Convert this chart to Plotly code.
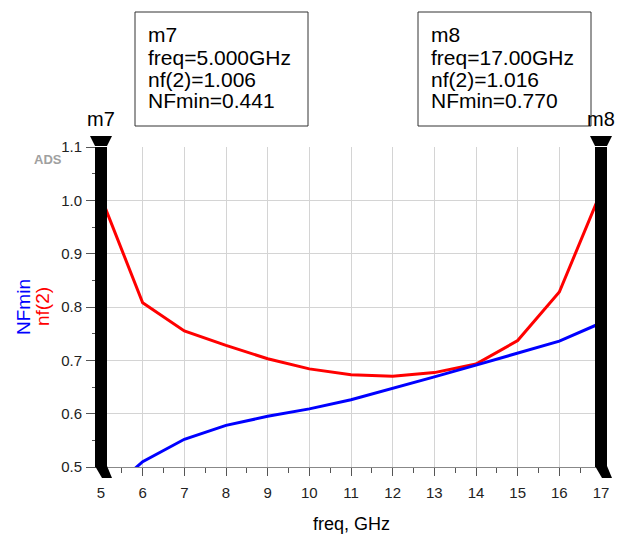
import plotly.graph_objects as go

# ---- data ----
freq = [5, 6, 7, 8, 9, 10, 11, 12, 13, 14, 15, 16, 17]
nf2 = [1.006, 0.808, 0.755, 0.728, 0.703, 0.684, 0.673, 0.670, 0.677, 0.693, 0.737, 0.828, 1.016]
nfmin = [0.441, 0.510, 0.552, 0.578, 0.595, 0.609, 0.626, 0.647, 0.669, 0.691, 0.713, 0.736, 0.770]

marker_names = ["m7", "m8"]
marker_freq = [5, 17]
marker_nf2 = [1.006, 1.016]
marker_nfmin = [0.441, 0.770]

x_ticks = list(range(5, 18))
y_ticks = [0.5, 0.6, 0.7, 0.8, 0.9, 1.0, 1.1]
x_range = [5, 17]
y_range = [0.5, 1.1]

FONT = "Liberation Sans, Arial, sans-serif"

# page body has an 8px margin; work in screen pixels and compensate
OFF = 8
W, H = 623 - OFF, 541 - OFF
PL, PR, PT, PB = 101, 601, 147, 467   # plot area in screen pixels
L, T = PL - OFF, PT - OFF
R = (W + OFF) - PR
B = (H + OFF) - PB
PW = PR - PL
PH = PB - PT


def px2paper_x(px):
    return (px - PL) / PW


def px2paper_y(py):
    return (PB - py) / PH


def data2frac_x(v):
    return (v - x_range[0]) / (x_range[1] - x_range[0])


def data2frac_y(v):
    return (v - y_range[0]) / (y_range[1] - y_range[0])


def fmt_freq(f):
    digits = len(str(int(f)))
    return f"{f:.{4 - digits}f}GHz"


fig = go.Figure()
fig.add_trace(go.Scatter(x=freq, y=nf2, mode="lines", name="nf(2)",
                         line=dict(color="#ff0000", width=3)))
fig.add_trace(go.Scatter(x=freq, y=nfmin, mode="lines", name="NFmin",
                         line=dict(color="#0000ff", width=3)))

shapes = []
annotations = []

# marker bars (domain refs so they are not clipped to the plot area)
for m in marker_freq:
    fx = data2frac_x(m)
    shapes.append(dict(type="rect", xref="x domain", yref="y domain", xsizemode="pixel", xanchor=fx,
                       x0=-6, x1=6, y0=data2frac_y(y_range[0]), y1=data2frac_y(y_range[1]),
                       fillcolor="black", line=dict(width=0), layer="above"))
    shapes.append(dict(type="path", xref="x domain", yref="y domain", xsizemode="pixel", ysizemode="pixel",
                       xanchor=fx, yanchor=1.0, path="M-11,11 L11,11 L6,1 L-6,1 Z",
                       fillcolor="black", line=dict(width=0), layer="above"))
    shapes.append(dict(type="path", xref="x domain", yref="y domain", xsizemode="pixel", ysizemode="pixel",
                       xanchor=fx, yanchor=0.0, path="M-6,1 L6,1 L11,-11 L1,-11 Z",
                       fillcolor="black", line=dict(width=0), layer="above"))

# marker readout boxes
box_left_px = [135, 418]
for i, name in enumerate(marker_names):
    bl = box_left_px[i]
    shapes.append(dict(type="rect", xref="paper", yref="paper",
                       x0=px2paper_x(bl), x1=px2paper_x(bl + 173),
                       y0=px2paper_y(126), y1=px2paper_y(12),
                       line=dict(color="#333333", width=1), fillcolor="white", layer="above"))
    lines = [name,
             "freq=" + fmt_freq(marker_freq[i]),
             f"nf(2)={marker_nf2[i]:.3f}",
             f"NFmin={marker_nfmin[i]:.3f}"]
    for j, txt in enumerate(lines):
        annotations.append(dict(xref="paper", yref="paper", x=px2paper_x(bl + 11),
                                y=px2paper_y(35 + 22 * j), xanchor="left", yanchor="middle",
                                text=txt, showarrow=False,
                                font=dict(family=FONT, size=21, color="black")))
    annotations.append(dict(xref="paper", yref="paper", x=data2frac_x(marker_freq[i]), y=px2paper_y(119),
                            xanchor="center", yanchor="middle", text=name, showarrow=False,
                            font=dict(family=FONT, size=20, color="black")))

# y-axis titles
annotations.append(dict(xref="paper", yref="paper", x=px2paper_x(23), y=px2paper_y(307),
                        xanchor="center", yanchor="middle", textangle=-90, text="NFmin",
                        showarrow=False, font=dict(family=FONT, size=19, color="#0000ff")))
annotations.append(dict(xref="paper", yref="paper", x=px2paper_x(42), y=px2paper_y(307),
                        xanchor="center", yanchor="middle", textangle=-90, text="nf(2)",
                        showarrow=False, font=dict(family=FONT, size=19, color="#ff0000")))
# ADS logo
annotations.append(dict(xref="paper", yref="paper", x=px2paper_x(48), y=px2paper_y(159),
                        xanchor="center", yanchor="middle", text="<b>ADS</b>",
                        showarrow=False, font=dict(family=FONT, size=13, color="#a0a0a0")))
# x-axis title
annotations.append(dict(xref="paper", yref="paper", x=0.5, y=px2paper_y(524),
                        xanchor="center", yanchor="middle", text="freq, GHz",
                        showarrow=False, font=dict(family=FONT, size=18, color="black")))

fig.update_layout(
    width=W, height=H,
    margin=dict(l=L, r=R, t=T, b=B, pad=0),
    paper_bgcolor="white", plot_bgcolor="white",
    showlegend=False,
    shapes=shapes, annotations=annotations,
    xaxis=dict(range=x_range, tickvals=x_ticks, ticktext=[str(v) for v in x_ticks],
               showgrid=True, gridcolor="#d4d4d4", gridwidth=1,
               showline=True, linecolor="#888888", linewidth=1,
               ticks="outside", ticklen=8, tickcolor="#555555", tickwidth=1,
               ticklabelstandoff=4,
               minor=dict(dtick=0.5, ticks="outside", ticklen=5, tickcolor="#555555", showgrid=False),
               tickfont=dict(family=FONT, size=15, color="#222222"),
               zeroline=False, fixedrange=True),
    yaxis=dict(range=y_range, tickvals=y_ticks, ticktext=[f"{v:.1f}" for v in y_ticks],
               showgrid=True, gridcolor="#d4d4d4", gridwidth=1,
               showline=True, linecolor="#888888", linewidth=1,
               ticks="outside", ticklen=14, tickcolor="#555555", tickwidth=1,
               ticklabelstandoff=1,
               minor=dict(dtick=0.05, ticks="outside", ticklen=8, tickcolor="#555555", showgrid=False),
               tickfont=dict(family=FONT, size=15, color="#222222"),
               zeroline=False, fixedrange=True),
)

fig.write_html("out.html")
